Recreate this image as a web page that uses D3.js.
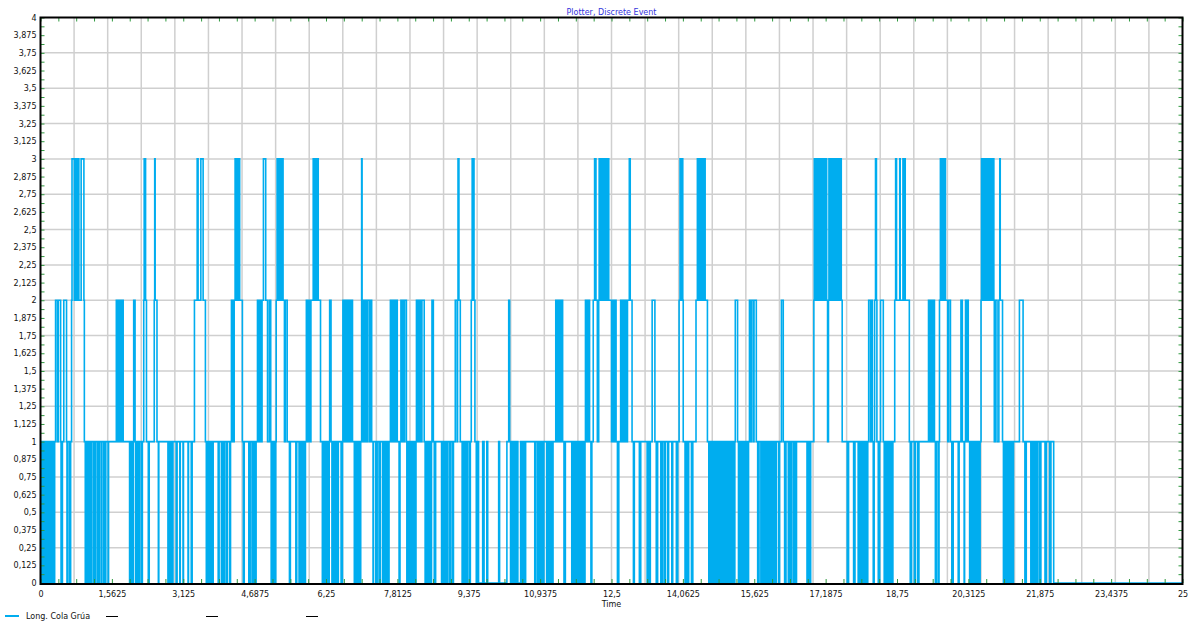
<!DOCTYPE html>
<html>
<head>
<meta charset="utf-8">
<script src="https://cdn.jsdelivr.net/npm/d3@7"></script>
<style>
  html, body { margin: 0; padding: 0; background: #fff; }
  svg { display: block; font-family: "DejaVu Sans", sans-serif; }
</style>
</head>
<body>
<svg id="chart" width="1189" height="621"></svg>
<script>
// queue length over time as [time, length] steps
const cola0a4 = [[0,0],[0.02,1],[0.04,0],[0.05,1],[0.07,0],[0.08,1],[0.10,0],[0.11,1],[0.13,0],[0.14,1],[0.16,0],[0.17,1],[0.19,0],[0.20,1],[0.22,0],[0.23,1],[0.25,0],[0.26,1],[0.29,0],[0.31,1],[0.33,2],[0.37,1],[0.39,2],[0.44,1],[0.45,0],[0.48,1],[0.51,2],[0.57,1],[0.58,0],[0.60,1],[0.64,0],[0.66,1],[0.68,2],[0.69,3],[0.74,2],[0.76,3],[0.77,2],[0.78,3],[0.80,2],[0.81,3],[0.84,2],[0.89,3],[0.95,2],[0.96,1],[0.98,0],[0.99,1],[1.00,0],[1.01,1],[1.02,0],[1.03,1],[1.04,0],[1.05,1],[1.06,0],[1.07,1],[1.08,0],[1.09,1],[1.10,0],[1.11,1],[1.15,0],[1.16,1],[1.19,0],[1.20,1],[1.24,0],[1.25,1],[1.28,0],[1.29,1],[1.33,0],[1.34,1],[1.38,0],[1.39,1],[1.42,0],[1.43,1],[1.48,0],[1.49,1],[1.66,2],[1.67,1],[1.68,2],[1.69,1],[1.70,2],[1.71,1],[1.72,2],[1.73,1],[1.74,2],[1.75,1],[1.76,2],[1.77,1],[1.78,2],[1.79,1],[1.80,2],[1.81,1],[1.95,0],[1.97,1],[2.00,0],[2.03,1],[2.04,2],[2.07,1],[2.08,0],[2.11,1],[2.14,0],[2.17,1],[2.21,0],[2.23,1],[2.26,2],[2.27,3],[2.30,2],[2.32,1],[2.36,0],[2.38,1],[2.49,2],[2.50,3],[2.51,2],[2.55,1],[2.58,0],[2.59,1],[2.79,0],[2.80,1],[2.81,0],[2.82,1],[2.83,0],[2.84,1],[2.85,0],[2.86,1],[2.87,0],[2.88,1],[2.89,0],[2.90,1],[2.97,0],[2.99,1],[3.05,0],[3.06,1],[3.12,0],[3.13,1],[3.23,0],[3.24,1],[3.30,0],[3.32,1],[3.37,2],[3.43,3],[3.45,2],[3.51,3],[3.56,2],[3.61,1],[3.63,0],[3.64,1],[3.65,0],[3.66,1],[3.67,0],[3.68,1],[3.69,0],[3.70,1],[3.71,0],[3.72,1],[3.73,0],[3.74,1],[3.75,0],[3.78,1],[3.89,0],[3.91,1],[3.96,0],[3.98,1],[4.01,0],[4.03,1],[4.07,0],[4.09,1],[4.14,0],[4.16,1],[4.18,2],[4.19,1],[4.20,2],[4.21,1],[4.22,2],[4.23,1],[4.24,2],[4.26,3],[4.27,2],[4.28,3],[4.29,2],[4.30,3],[4.31,2],[4.32,3],[4.33,2],[4.34,3],[4.36,2],[4.42,1]];

const cola4a9 = [[4.44,0],[4.46,1],[4.56,0],[4.59,1],[4.63,0],[4.64,1],[4.65,0],[4.66,1],[4.67,0],[4.68,1],[4.69,0],[4.72,1],[4.75,2],[4.76,1],[4.77,2],[4.78,1],[4.79,2],[4.80,1],[4.81,2],[4.82,1],[4.83,2],[4.84,1],[4.85,2],[4.88,3],[4.93,2],[4.97,1],[5.01,2],[5.04,1],[5.05,0],[5.06,1],[5.07,0],[5.08,1],[5.09,0],[5.10,1],[5.11,0],[5.12,1],[5.13,0],[5.15,1],[5.16,2],[5.18,3],[5.19,2],[5.20,3],[5.21,2],[5.22,3],[5.23,2],[5.24,3],[5.25,2],[5.26,3],[5.27,2],[5.28,3],[5.29,2],[5.30,3],[5.31,2],[5.34,1],[5.36,2],[5.40,1],[5.45,0],[5.47,1],[5.59,0],[5.61,1],[5.66,0],[5.69,1],[5.72,0],[5.75,1],[5.78,0],[5.80,1],[5.82,2],[5.83,1],[5.84,2],[5.85,1],[5.86,2],[5.87,1],[5.88,2],[5.89,1],[5.90,2],[5.91,1],[5.92,2],[5.97,3],[5.98,2],[5.99,3],[6.00,2],[6.01,3],[6.02,2],[6.03,3],[6.04,2],[6.05,3],[6.06,2],[6.07,3],[6.08,2],[6.13,1],[6.17,0],[6.20,1],[6.23,0],[6.26,1],[6.29,0],[6.32,1],[6.33,2],[6.36,1],[6.38,0],[6.41,1],[6.44,0],[6.47,1],[6.50,0],[6.52,1],[6.58,0],[6.61,1],[6.62,2],[6.63,1],[6.64,2],[6.65,1],[6.66,2],[6.67,1],[6.68,2],[6.69,1],[6.70,2],[6.71,1],[6.72,2],[6.73,1],[6.74,2],[6.75,1],[6.76,2],[6.77,1],[6.78,2],[6.79,1],[6.80,2],[6.81,1],[6.82,2],[6.83,1],[6.87,0],[6.88,1],[6.89,0],[6.90,1],[6.91,0],[6.92,1],[6.93,0],[6.96,1],[6.99,0],[7.01,1],[7.03,3],[7.04,2],[7.06,1],[7.09,2],[7.10,1],[7.11,2],[7.12,1],[7.13,2],[7.14,1],[7.16,2],[7.20,1],[7.22,2],[7.25,1],[7.28,0],[7.29,1],[7.34,0],[7.37,1],[7.41,0],[7.44,1],[7.49,0],[7.52,1],[7.55,0],[7.57,1],[7.60,0],[7.63,1],[7.66,2],[7.67,1],[7.68,2],[7.69,1],[7.70,2],[7.71,1],[7.72,2],[7.73,1],[7.74,2],[7.75,1],[7.76,2],[7.77,1],[7.78,2],[7.81,1],[7.85,0],[7.87,1],[7.89,2],[7.90,1],[7.91,2],[7.92,1],[7.93,2],[7.94,1],[7.95,2],[7.96,1],[7.97,2],[8.01,1],[8.02,0],[8.03,1],[8.04,0],[8.05,1],[8.06,0],[8.07,1],[8.08,0],[8.09,1],[8.10,0],[8.11,1],[8.14,0],[8.15,1],[8.16,0],[8.17,1],[8.18,0],[8.19,1],[8.20,0],[8.22,1],[8.23,2],[8.24,1],[8.25,2],[8.26,1],[8.27,2],[8.28,1],[8.29,2],[8.30,1],[8.31,2],[8.32,1],[8.33,2],[8.34,1],[8.35,2],[8.40,1],[8.42,0],[8.45,1],[8.48,0],[8.49,1],[8.50,0],[8.51,1],[8.52,0],[8.53,1],[8.54,0],[8.56,1],[8.57,2],[8.60,1],[8.62,0],[8.65,1],[8.78,0],[8.81,1],[8.84,0],[8.87,1]];

const cola9a13 = [[8.89,0],[8.91,1],[8.95,0],[8.97,1],[9.01,0],[9.04,1],[9.08,2],[9.12,1],[9.13,2],[9.14,3],[9.16,2],[9.19,1],[9.23,0],[9.25,1],[9.28,0],[9.30,1],[9.33,0],[9.35,1],[9.39,0],[9.41,1],[9.43,2],[9.45,3],[9.46,2],[9.47,3],[9.49,2],[9.51,1],[9.54,0],[9.56,1],[9.59,0],[9.68,1],[9.71,0],[9.77,1],[9.79,0],[10.03,1],[10.05,0],[10.21,1],[10.25,2],[10.27,1],[10.29,0],[10.30,1],[10.31,0],[10.32,1],[10.33,0],[10.34,1],[10.35,0],[10.36,1],[10.37,0],[10.38,1],[10.40,0],[10.42,1],[10.45,0],[10.51,1],[10.52,0],[10.53,1],[10.54,0],[10.56,1],[10.59,0],[10.62,1],[10.82,0],[10.84,1],[10.88,0],[10.91,1],[10.94,0],[10.96,1],[10.99,0],[11.02,1],[11.08,0],[11.09,1],[11.10,0],[11.11,1],[11.14,0],[11.17,1],[11.20,0],[11.22,1],[11.28,2],[11.29,1],[11.30,2],[11.31,1],[11.34,2],[11.37,1],[11.40,2],[11.43,1],[11.46,0],[11.49,1],[11.63,0],[11.64,1],[11.65,0],[11.66,1],[11.67,0],[11.68,1],[11.69,0],[11.70,1],[11.71,0],[11.72,1],[11.73,0],[11.74,1],[11.75,0],[11.76,1],[11.77,0],[11.78,1],[11.79,0],[11.80,1],[11.81,0],[11.82,1],[11.83,0],[11.84,1],[11.85,0],[11.86,1],[11.87,0],[11.88,1],[11.89,0],[11.90,1],[11.91,0],[11.92,1],[11.93,2],[11.94,1],[11.95,2],[11.96,1],[11.97,2],[11.99,1],[12.00,2],[12.02,1],[12.05,0],[12.07,1],[12.10,2],[12.13,3],[12.16,2],[12.19,1],[12.22,2],[12.23,3],[12.24,2],[12.25,3],[12.26,2],[12.27,3],[12.28,2],[12.29,3],[12.30,2],[12.31,3],[12.32,2],[12.33,3],[12.34,2],[12.35,3],[12.36,2],[12.37,3],[12.38,2],[12.39,3],[12.40,2],[12.41,3],[12.42,2],[12.43,3],[12.44,2],[12.50,1],[12.51,2],[12.52,1],[12.53,2],[12.55,1],[12.57,2],[12.60,1],[12.63,0],[12.66,1],[12.70,2],[12.71,1],[12.72,2],[12.73,1],[12.74,2],[12.75,1],[12.76,2],[12.77,1],[12.78,2],[12.79,1],[12.80,2],[12.81,1],[12.82,2],[12.83,1],[12.85,2],[12.89,3],[12.91,2],[12.95,1],[12.98,0],[13.00,1],[13.11,0],[13.14,1],[13.28,0],[13.31,1]];

const cola13a18 = [[13.33,0],[13.35,1],[13.39,2],[13.45,1],[13.48,0],[13.51,1],[13.58,0],[13.61,1],[13.65,0],[13.68,1],[13.73,0],[13.75,1],[13.82,0],[13.84,1],[13.92,0],[13.95,1],[13.98,2],[14.00,3],[14.01,2],[14.02,3],[14.03,2],[14.04,3],[14.06,2],[14.07,1],[14.11,0],[14.14,1],[14.16,0],[14.19,1],[14.25,0],[14.28,1],[14.35,2],[14.38,3],[14.39,2],[14.40,3],[14.41,2],[14.42,3],[14.43,2],[14.44,3],[14.45,2],[14.46,3],[14.47,2],[14.48,3],[14.49,2],[14.50,3],[14.51,2],[14.52,3],[14.53,2],[14.54,3],[14.55,2],[14.60,1],[14.63,0],[14.64,1],[14.65,0],[14.66,1],[14.67,0],[14.70,1],[14.73,0],[14.74,1],[14.75,0],[14.76,1],[14.79,0],[14.80,1],[14.81,0],[14.82,1],[14.84,0],[14.85,1],[14.86,0],[14.87,1],[14.90,0],[14.92,1],[14.95,0],[14.98,1],[15.01,0],[15.04,1],[15.07,0],[15.09,1],[15.12,0],[15.15,1],[15.18,0],[15.20,1],[15.21,2],[15.26,1],[15.28,0],[15.30,1],[15.33,0],[15.35,1],[15.38,0],[15.41,1],[15.43,0],[15.46,1],[15.48,0],[15.50,1],[15.52,2],[15.55,1],[15.57,2],[15.61,1],[15.62,2],[15.67,1],[15.70,0],[15.73,1],[15.77,0],[15.79,1],[15.81,0],[15.82,1],[15.83,0],[15.84,1],[15.85,0],[15.86,1],[15.87,0],[15.88,1],[15.89,0],[15.90,1],[15.91,0],[15.92,1],[15.93,0],[15.94,1],[15.95,0],[15.96,1],[15.97,0],[15.98,1],[15.99,0],[16.00,1],[16.01,0],[16.02,1],[16.03,0],[16.04,1],[16.05,0],[16.06,1],[16.09,0],[16.11,1],[16.16,0],[16.18,1],[16.22,2],[16.26,1],[16.29,0],[16.32,1],[16.37,0],[16.39,1],[16.42,0],[16.44,1],[16.48,0],[16.50,1],[16.53,0],[16.55,1],[16.78,0],[16.80,1],[16.83,0],[16.86,1],[16.93,2],[16.94,3],[16.95,2],[16.96,3],[16.97,2],[16.98,3],[16.99,2],[17.00,3],[17.02,2],[17.04,3],[17.05,2],[17.06,3],[17.07,2],[17.08,3],[17.09,2],[17.10,3],[17.11,2],[17.12,3],[17.13,2],[17.14,3],[17.15,2],[17.16,3],[17.17,2],[17.18,3],[17.19,2],[17.20,3],[17.21,2],[17.23,1],[17.25,2],[17.26,3],[17.27,2],[17.28,3],[17.29,2],[17.30,3],[17.31,2],[17.34,3],[17.35,2],[17.36,3],[17.37,2],[17.38,3],[17.39,2],[17.40,3],[17.41,2],[17.42,3],[17.43,2],[17.44,3],[17.45,2],[17.46,3],[17.47,2],[17.48,3],[17.49,2],[17.50,3],[17.51,2],[17.52,3],[17.53,2],[17.55,1],[17.66,0],[17.69,1]];

const cola18a25 = [[17.80,0],[17.83,1],[17.90,0],[17.91,1],[17.92,0],[17.93,1],[17.94,0],[17.95,1],[17.96,0],[17.97,1],[17.98,0],[17.99,1],[18.00,0],[18.01,1],[18.02,0],[18.03,1],[18.04,0],[18.05,1],[18.06,0],[18.07,1],[18.08,0],[18.11,1],[18.13,2],[18.17,1],[18.18,2],[18.21,1],[18.23,0],[18.25,1],[18.26,2],[18.28,3],[18.30,2],[18.31,1],[18.34,0],[18.37,1],[18.39,2],[18.45,1],[18.47,0],[18.48,1],[18.49,0],[18.50,1],[18.51,0],[18.52,1],[18.53,0],[18.54,1],[18.55,0],[18.56,1],[18.57,0],[18.58,1],[18.59,0],[18.60,1],[18.61,0],[18.62,1],[18.64,0],[18.66,1],[18.70,2],[18.72,3],[18.74,2],[18.81,3],[18.82,2],[18.88,3],[18.90,2],[18.92,3],[18.93,2],[19.02,1],[19.04,0],[19.07,1],[19.13,0],[19.15,1],[19.20,0],[19.23,1],[19.44,2],[19.45,1],[19.46,2],[19.47,1],[19.48,2],[19.49,1],[19.50,2],[19.51,1],[19.52,2],[19.53,1],[19.54,2],[19.55,1],[19.56,2],[19.57,1],[19.59,0],[19.62,1],[19.66,0],[19.67,1],[19.68,2],[19.70,3],[19.71,2],[19.74,3],[19.75,2],[19.76,3],[19.77,2],[19.78,3],[19.79,2],[19.80,3],[19.81,2],[19.86,1],[19.88,2],[19.92,1],[19.95,0],[19.98,1],[20.09,0],[20.11,1],[20.15,2],[20.18,1],[20.22,0],[20.23,1],[20.25,2],[20.26,1],[20.27,2],[20.28,1],[20.29,2],[20.31,1],[20.34,0],[20.37,1],[20.40,0],[20.43,1],[20.46,0],[20.47,1],[20.48,0],[20.49,1],[20.50,0],[20.51,1],[20.52,0],[20.53,1],[20.55,0],[20.57,1],[20.59,2],[20.60,3],[20.61,2],[20.62,3],[20.63,2],[20.64,3],[20.65,2],[20.66,3],[20.67,2],[20.68,3],[20.69,2],[20.70,3],[20.71,2],[20.72,3],[20.73,2],[20.74,3],[20.75,2],[20.76,3],[20.77,2],[20.78,3],[20.79,2],[20.80,3],[20.81,2],[20.82,3],[20.83,2],[20.84,3],[20.85,2],[20.86,3],[20.87,2],[20.88,1],[20.90,2],[20.94,1],[20.98,2],[21.00,3],[21.01,2],[21.06,1],[21.08,0],[21.09,1],[21.10,0],[21.11,1],[21.12,0],[21.13,1],[21.14,0],[21.15,1],[21.16,0],[21.17,1],[21.18,0],[21.19,1],[21.20,0],[21.21,1],[21.22,0],[21.23,1],[21.24,0],[21.25,1],[21.26,0],[21.27,1],[21.28,0],[21.30,1],[21.43,2],[21.51,1],[21.55,0],[21.58,1],[21.68,0],[21.71,1],[21.74,0],[21.77,1],[21.80,0],[21.83,1],[21.87,0],[21.90,1],[21.99,0],[22.02,1],[22.09,0],[22.12,1],[22.18,0],[25,0]];

const xTicks = [0, 1.5625, 3.125, 4.6875, 6.25, 7.8125, 9.375, 10.9375, 12.5, 14.0625, 15.625, 17.1875, 18.75, 20.3125, 21.875, 23.4375, 25];
const yTicks = [0, 0.125, 0.25, 0.375, 0.5, 0.625, 0.75, 0.875, 1, 1.125, 1.25, 1.375, 1.5, 1.625, 1.75, 1.875, 2,
  2.125, 2.25, 2.375, 2.5, 2.625, 2.75, 2.875, 3, 3.125, 3.25, 3.375, 3.5, 3.625, 3.75, 3.875, 4];
const legendNames = ['Long. Cola Grúa', '', '', ''];
const legendColors = ['#00adef', '#000', '#000', '#000'];

const colaGrua = [].concat(cola0a4, cola4a9, cola9a13, cola13a18, cola18a25);

const svg = d3.select('#chart');
const plotLeft = 40.5, plotRight = 1182.5, plotTop = 17.5, plotBottom = 583;
const fmt = v => String(v).replace('.', ',');

const x = d3.scaleLinear().domain([0, 25]).range([plotLeft, plotRight]);
const y = d3.scaleLinear().domain([0, 4]).range([plotBottom, plotTop]);

// grid: horizontal every 0.25, vertical splits the width in 34 parts
const grid = svg.append('g').attr('stroke', '#cfcfcf').attr('stroke-width', 1.5);
grid.selectAll('line.h')
  .data(yTicks.filter((d, i) => i % 2 === 0 && d > 0 && d < 4))
  .join('line')
  .attr('class', 'h')
  .attr('x1', plotLeft).attr('x2', plotRight)
  .attr('y1', d => y(d)).attr('y2', d => y(d));
grid.selectAll('line.v')
  .data(d3.range(1, 34))
  .join('line')
  .attr('class', 'v')
  .attr('x1', i => plotLeft + (plotRight - plotLeft) * i / 34)
  .attr('x2', i => plotLeft + (plotRight - plotLeft) * i / 34)
  .attr('y1', plotTop).attr('y2', plotBottom);

// the series
const line = d3.line()
  .x(d => x(d[0]))
  .y(d => y(d[1]))
  .curve(d3.curveStepAfter);
svg.append('path')
  .datum(colaGrua)
  .attr('d', line)
  .attr('fill', 'none')
  .attr('stroke', legendColors[0])
  .attr('stroke-width', 1.6);

// small green ticks on all four sides
const green = '#2f9a3f';
const yMinor = d3.range(0, 4.0001, 0.0625);
const xMinor = d3.range(0, 25.0001, 0.390625);
const tickAxes = [
  svg.append('g').attr('transform', `translate(${plotLeft},0)`).call(d3.axisRight(y).tickValues(yMinor).tickSize(4).tickFormat('')),
  svg.append('g').attr('transform', `translate(${plotRight},0)`).call(d3.axisLeft(y).tickValues(yMinor).tickSize(4).tickFormat('')),
  svg.append('g').attr('transform', `translate(0,${plotTop})`).call(d3.axisBottom(x).tickValues(xMinor).tickSize(4).tickFormat('')),
  svg.append('g').attr('transform', `translate(0,${plotBottom})`).call(d3.axisTop(x).tickValues(xMinor).tickSize(4).tickFormat(''))
];
tickAxes.forEach(g => {
  g.select('.domain').remove();
  g.selectAll('line').attr('stroke', green);
});

// frame
svg.append('rect')
  .attr('x', plotLeft).attr('y', plotTop)
  .attr('width', plotRight - plotLeft).attr('height', plotBottom - plotTop + 1)
  .attr('fill', 'none')
  .attr('stroke', '#000')
  .attr('stroke-width', 2);

// tick labels
const yAxis = svg.append('g')
  .attr('transform', `translate(${plotLeft},0)`)
  .call(d3.axisLeft(y).tickValues(yTicks).tickSize(0).tickPadding(4).tickFormat(fmt));
const xAxis = svg.append('g')
  .attr('transform', `translate(0,${plotBottom})`)
  .call(d3.axisBottom(x).tickValues(xTicks).tickSize(0).tickPadding(8).tickFormat(fmt));
[yAxis, xAxis].forEach(g => {
  g.select('.domain').remove();
  g.selectAll('text')
    .attr('fill', '#111')
    .style('font-family', '"DejaVu Sans", sans-serif')
    .style('font-size', '8px');
});

svg.append('text')
  .attr('x', (plotLeft + plotRight) / 2).attr('y', 607)
  .attr('text-anchor', 'middle')
  .style('font-size', '8px')
  .attr('fill', '#111')
  .text('Time');

svg.append('text')
  .attr('x', (plotLeft + plotRight) / 2).attr('y', 14.5)
  .attr('text-anchor', 'middle')
  .style('font-size', '8px')
  .attr('fill', '#3434dc')
  .text('Plotter, Discrete Event');

// legend: first entry labelled, the other three only a short black line
const legend = svg.append('g').attr('transform', 'translate(5,616)');
const item = legend.selectAll('g')
  .data(legendNames)
  .join('g')
  .attr('transform', (d, i) => `translate(${i * 100},0)`);
item.append('line')
  .attr('x1', (d, i) => i === 0 ? 0 : 1)
  .attr('x2', (d, i) => i === 0 ? 14 : 13)
  .attr('y1', 0).attr('y2', 0)
  .attr('stroke', (d, i) => legendColors[i])
  .attr('stroke-width', (d, i) => i === 0 ? 2 : 1)
  .attr('shape-rendering', 'crispEdges');
item.append('text')
  .attr('x', 21).attr('y', 2.5)
  .style('font-size', '8px')
  .attr('fill', '#111')
  .text(d => d);
</script>
</body>
</html>
